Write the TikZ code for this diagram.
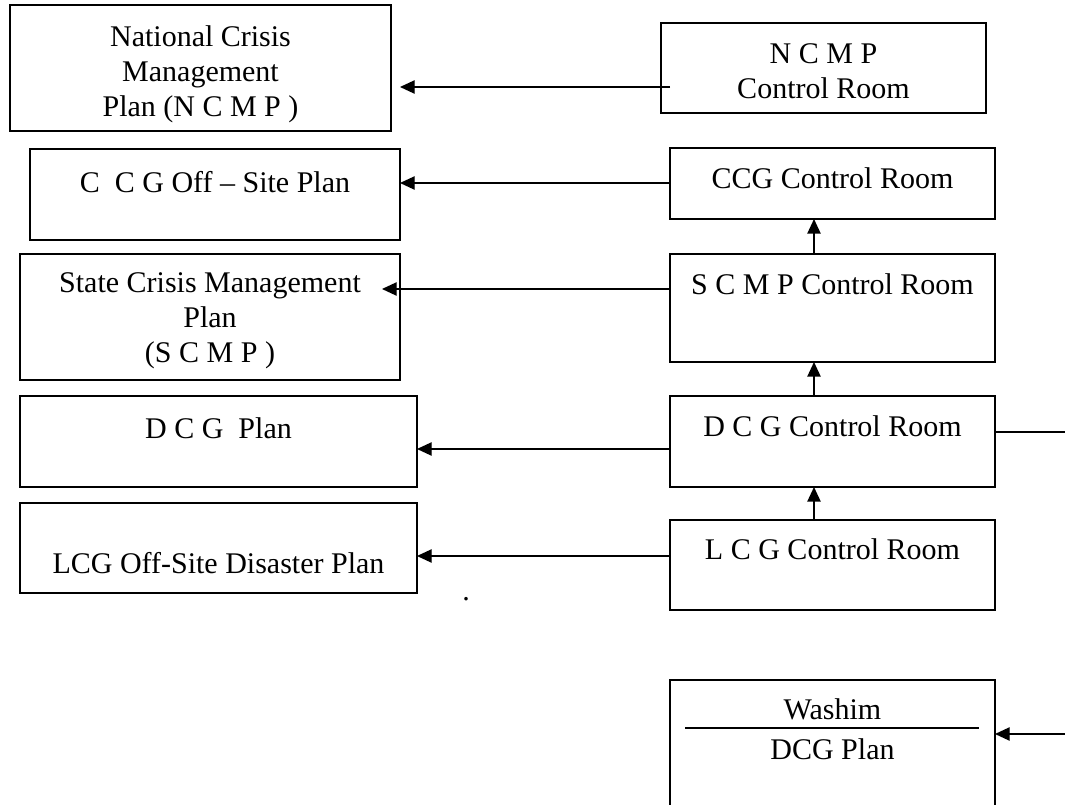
\documentclass[tikz,border=0pt]{standalone}
\usepackage{fontspec}
\setmainfont{Liberation Serif}
\usetikzlibrary{arrows.meta}
\begin{document}
\begin{tikzpicture}[x=0.75pt,y=-0.75pt,
  box/.style={draw, line width=1pt, rectangle, inner sep=0pt, outer sep=0pt},
  txt/.style={font=\fontsize{22.5}{26.25}\selectfont, align=center, inner sep=0pt, anchor=north},
  arr/.style={line width=1pt, -{Triangle[length=11pt,width=10pt]}},
  link/.style={line width=1pt}]
\clip (0,0) rectangle (1065,805);

% plan documents (left column)
\node[box, minimum width=285.75pt, minimum height=94.5pt]  (L1) at (200.5,68)  {};
\node[box, minimum width=277.5pt,  minimum height=68.25pt] (L2) at (215,194.5) {};
\node[box, minimum width=285pt,    minimum height=94.5pt]  (L3) at (210,317)   {};
\node[box, minimum width=297.75pt, minimum height=68.25pt] (L4) at (218.5,441.5) {};
\node[box, minimum width=297.75pt, minimum height=67.5pt]  (L5) at (218.5,548) {};

% control rooms (right column)
\node[box, minimum width=243.75pt, minimum height=67.5pt]   (R1) at (823.5,68)  {};
\node[box, minimum width=243.75pt, minimum height=53.25pt]  (R2) at (832.5,183.5) {};
\node[box, minimum width=243.75pt, minimum height=81pt]     (R3) at (832.5,308) {};
\node[box, minimum width=243.75pt, minimum height=68.25pt]  (R4) at (832.5,441.5) {};
\node[box, minimum width=243.75pt, minimum height=67.5pt]   (R5) at (832.5,565) {};
\node[box, minimum width=243.75pt, minimum height=101.25pt] (R6) at (832.5,747.5) {};

% labels
\node[txt] (tL1) at (L1.north |- 0,25)  {National Crisis\\Management\\Plan (N C M P )};
\node[txt] (tL2) at (L2.north |- 0,171) {C~~C G Off – Site Plan};
\node[txt] (tL3) at (L3.north |- 0,272) {State Crisis Management\\Plan\\(S C M P )};
\node[txt] (tL4) at (L4.north |- 0,417) {D C G~~Plan};
\node[txt] (tL5) at (L5.north |- 0,552) {LCG Off-Site Disaster Plan};

\node[txt] (tR1) at (R1.north |- 0,43)  {N C M P\\Control Room};
\node[txt] (tR2) at (R2.north |- 0,167) {CCG Control Room};
\node[txt] (tR3) at (R3.north |- 0,273) {S C M P Control Room};
\node[txt] (tR4) at (R4.north |- 0,415) {D C G Control Room};
\node[txt] (tR5) at (R5.north |- 0,538) {L C G Control Room};
\node[txt] (tR6a) at (R6.north |- 0,698) {Washim};
\node[txt] (tR6b) at (R6.north |- 0,738) {DCG Plan};
\node[txt, anchor=base] (dot) at (466,601) {.};

% divider inside the Washim box
\draw[line width=1.3pt] ([xshift=11.25pt]R6.west |- 0,728) -- ([xshift=-12pt]R6.east |- 0,728);

% horizontal links from control rooms to plans
\draw[arr] ([xshift=6.75pt]R1.west |- 0,87) -- ([xshift=6.75pt]L1.east |- 0,87);
\draw[arr] (R2.west |- 0,183) -- (L2.east |- 0,183);
\draw[arr] (R3.west |- 0,289) -- ([xshift=-13.5pt]L3.east |- 0,289);
\draw[arr] (R4.west |- 0,449) -- (L4.east |- 0,449);
\draw[arr] (R5.west |- 0,556) -- (L5.east |- 0,556);

% upward chain between control rooms
\draw[arr] (R3.north -| 814,0) -- (R2.south -| 814,0);
\draw[arr] (R4.north -| 814,0) -- (R3.south -| 814,0);
\draw[arr] (R5.north -| 814,0) -- (R4.south -| 814,0);

% outgoing and incoming links at the right edge
\coordinate (outR) at (1065,432);
\coordinate (inW)  at (1065,734);
\draw[link] (R4.east |- outR) -- (outR);
\draw[arr] (inW) -- (R6.east |- inW);
\end{tikzpicture}
\end{document}
